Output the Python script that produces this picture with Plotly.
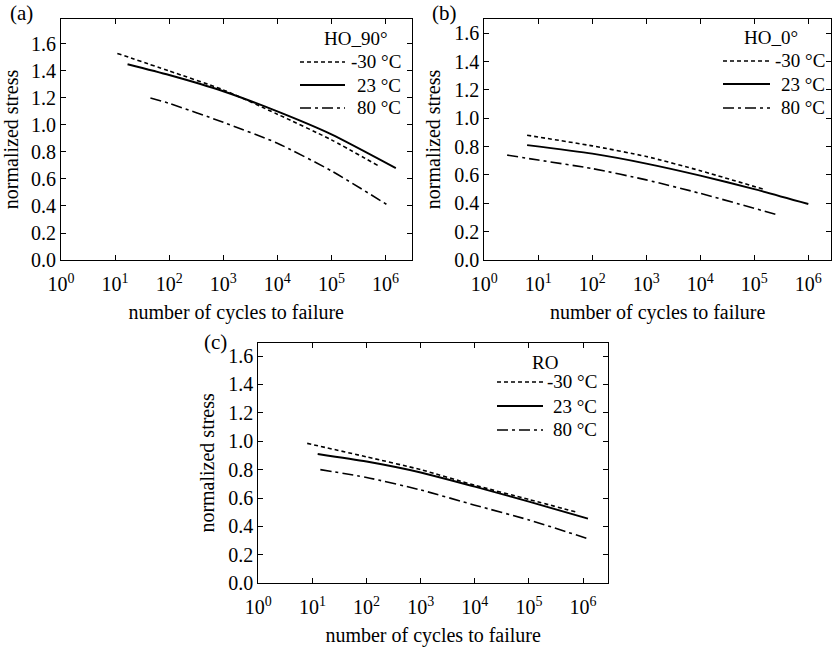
import plotly.graph_objects as go

# ---- data: fatigue curves (cycles to failure vs normalized stress) ----
temps = ["-30 °C", "23 °C", "80 °C"]

# HO_90°
a_n_m30 = [11, 100, 1e3, 1e4, 1e5, 7.2e5]
a_s_m30 = [1.53, 1.40, 1.26, 1.08, 0.89, 0.70]
a_n_23 = [17, 100, 1e3, 1e4, 1e5, 1.55e6]
a_s_23 = [1.45, 1.37, 1.25, 1.10, 0.93, 0.68]
a_n_80 = [45, 100, 1e3, 1e4, 1e5, 1.17e6]
a_s_80 = [1.20, 1.16, 1.02, 0.865, 0.66, 0.40]

# HO_0°
b_n_m30 = [6.2, 100, 1e3, 1e4, 1.45e5]
b_s_m30 = [0.88, 0.805, 0.73, 0.63, 0.50]
b_n_23 = [6.2, 100, 1e3, 1e4, 1e5, 1e6]
b_s_23 = [0.81, 0.75, 0.68, 0.595, 0.50, 0.395]
b_n_80 = [2.65, 10, 100, 1e3, 1e4, 2.6e5]
b_s_80 = [0.74, 0.705, 0.645, 0.565, 0.47, 0.32]

# RO
c_n_m30 = [8, 100, 1e3, 1e4, 1e5, 8.2e5]
c_s_m30 = [0.985, 0.89, 0.80, 0.69, 0.59, 0.497]
c_n_23 = [12.5, 100, 1e3, 1e4, 1e5, 1.23e6]
c_s_23 = [0.91, 0.857, 0.78, 0.68, 0.575, 0.455]
c_n_80 = [14, 100, 1e3, 1e4, 1e5, 1.15e6]
c_s_80 = [0.80, 0.745, 0.657, 0.55, 0.446, 0.317]

panel_titles = ["HO_90°", "HO_0°", "RO"]
panel_tags = ["(a)", "(b)", "(c)"]
x_ticks = [1, 10, 100, 1e3, 1e4, 1e5, 1e6]
x_ticktext = ["10<sup>%d</sup>" % i for i in range(7)]
y_ticks = [0.0, 0.2, 0.4, 0.6, 0.8, 1.0, 1.2, 1.4, 1.6]
y_ticktext = ["%.1f" % v for v in y_ticks]

FONT = "Liberation Serif"
FS = 20
KEY_FS = 19
W, H = 832, 648

dashes = ["4px,3px", "solid", "11px,4px,3px,4px"]
widths = [1.6, 1.9, 1.6]

panels = [
    [(a_n_m30, a_s_m30), (a_n_23, a_s_23), (a_n_80, a_s_80)],
    [(b_n_m30, b_s_m30), (b_n_23, b_s_23), (b_n_80, b_s_80)],
    [(c_n_m30, c_s_m30), (c_n_23, c_s_23), (c_n_80, c_s_80)],
]

# plot-area boxes in pixels: (left, right, top, bottom)
boxes = [(61, 411.5, 19, 260), (484.3, 831, 19, 260), (258.3, 608, 342.5, 583.3)]
x_max_log = [6.48, 6.42, 6.46]
y_max = [1.785, 1.70, 1.695]

# key layout per panel (pixels): title centre, row y's, sample x-span, text right edge
key_title = [(356, 38), (771, 37), (545, 362)]
key_rows = [(62, 85, 108), (61, 84, 108), (382, 406, 430)]
key_sample = [(300, 345), (723, 770), (497, 543)]
key_text_right = [403, 827, 599]
tag_pos = [(21, 13), (444, 13), (215, 342)]

fig = go.Figure()
annotations = []
shapes = []


def px(xp, yp):
    return xp / W, 1 - yp / H


for p in range(3):
    sfx = "" if p == 0 else str(p + 1)
    for k, (n, s) in enumerate(panels[p]):
        fig.add_trace(go.Scatter(
            x=n, y=s, mode="lines", name=temps[k], showlegend=False,
            line=dict(color="black", width=widths[k],
                      dash=dashes[k], shape="spline", smoothing=0.6),
            xaxis="x" + sfx, yaxis="y" + sfx,
        ))
    l, r, t, b = boxes[p]
    fig.layout["xaxis" + sfx] = dict(
        domain=[l / W, r / W], anchor="y" + sfx, type="log",
        range=[0, x_max_log[p]],
        tickvals=x_ticks, ticktext=x_ticktext,
        ticks="inside", ticklen=5, tickcolor="black", tickwidth=1,
        ticklabelstandoff=6,
        showline=True, linecolor="black", linewidth=1, mirror="ticks",
        showgrid=False, zeroline=False,
        tickfont=dict(family=FONT, size=FS),
        title=dict(text="number of cycles to failure", standoff=10,
                   font=dict(family=FONT, size=FS)),
        automargin=False,
    )
    fig.layout["yaxis" + sfx] = dict(
        domain=[1 - b / H, 1 - t / H], anchor="x" + sfx,
        range=[0, y_max[p]],
        tickvals=y_ticks, ticktext=y_ticktext,
        ticks="inside", ticklen=5, tickcolor="black", tickwidth=1,
        showline=True, linecolor="black", linewidth=1, mirror="ticks",
        showgrid=False, zeroline=False,
        tickfont=dict(family=FONT, size=FS),
        title=dict(text="normalized stress", standoff=8,
                   font=dict(family=FONT, size=FS)),
        automargin=False,
    )

    # key: title, then a line sample and label for each temperature
    tx, ty = px(*key_title[p])
    annotations.append(dict(text=panel_titles[p], x=tx, y=ty, xref="paper",
                            yref="paper", showarrow=False, xanchor="center",
                            yanchor="middle", font=dict(family=FONT, size=KEY_FS)))
    x0, x1 = key_sample[p]
    for k in range(3):
        ry = key_rows[p][k]
        shapes.append(dict(type="line", xref="paper", yref="paper",
                           x0=x0 / W, x1=x1 / W, y0=1 - ry / H, y1=1 - ry / H,
                           line=dict(color="black", width=widths[k], dash=dashes[k])))
        lx, ly = px(key_text_right[p], ry)
        annotations.append(dict(text=temps[k], x=lx, y=ly, xref="paper",
                                yref="paper", showarrow=False, xanchor="right",
                                yanchor="middle", font=dict(family=FONT, size=KEY_FS)))

    gx, gy = px(*tag_pos[p])
    annotations.append(dict(text=panel_tags[p], x=gx, y=gy, xref="paper", yref="paper",
                            showarrow=False, xanchor="center", yanchor="middle",
                            font=dict(family=FONT, size=21)))

fig.update_layout(
    width=W, height=H,
    margin=dict(l=0, r=0, t=0, b=0),
    paper_bgcolor="white", plot_bgcolor="white",
    font=dict(family=FONT, size=FS, color="black"),
    showlegend=False,
    annotations=annotations,
    shapes=shapes,
)
fig.write_html("out.html")
